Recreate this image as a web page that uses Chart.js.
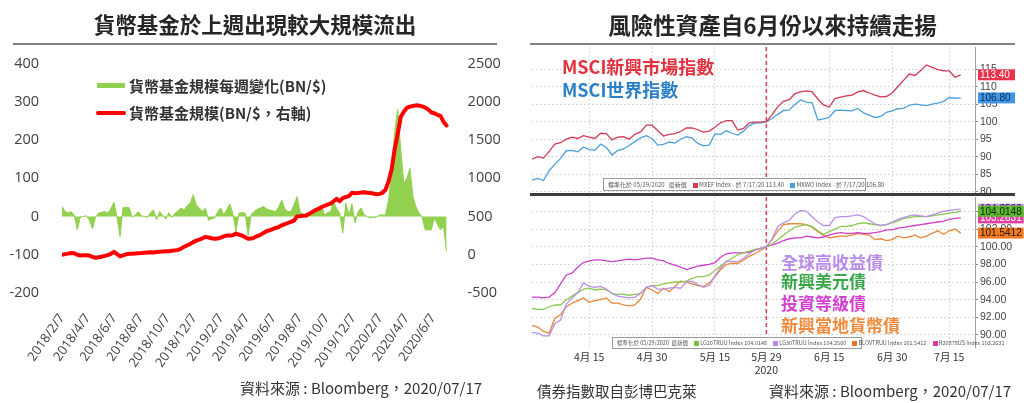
<!DOCTYPE html>
<html><head><meta charset="utf-8">
<script src="https://cdn.jsdelivr.net/npm/chart.js@4.4.1/dist/chart.umd.min.js"></script>
<style>
html,body{margin:0;padding:0;background:#fff;}
body{width:1024px;height:403px;position:relative;overflow:hidden;font-family:"Noto Sans CJK TC","Open Sans",sans-serif;color:#222;}
.abs{position:absolute;white-space:nowrap;z-index:5;}
canvas{position:absolute;z-index:2;}
.title{font-weight:bold;color:#262626;text-align:center;}
.rule{position:absolute;background:#808080;height:2px;z-index:5;}
.ann{font-weight:bold;font-size:17px;line-height:17px;}
.box{position:absolute;z-index:6;background:#fff;border:1px solid #9a9a9a;font-size:6px;line-height:11px;color:#555;white-space:nowrap;padding:0 4px;box-sizing:border-box;font-family:"Noto Sans CJK TC","Liberation Sans",sans-serif;}
.sq{display:inline-block;width:5px;height:5px;margin:0 1px 0 5px;vertical-align:-0.5px;}
</style></head>
<body>
<!-- left panel -->
<div class="abs title" style="left:13px;width:484px;top:12px;font-size:21.5px;line-height:24px;">貨幣基金於上週出現較大規模流出</div>
<div class="rule" style="left:13px;top:43px;width:484px;"></div>
<div class="abs" style="left:97px;top:83px;width:28px;height:5px;background:#92d050;"></div>
<div class="abs" style="left:129px;top:77px;font-size:15px;line-height:18px;font-weight:bold;color:#333;">貨幣基金規模每週變化(BN/$)</div>
<div class="abs" style="left:96px;top:111px;width:30px;height:4px;border-radius:2px;background:#ff0000;"></div>
<div class="abs" style="left:129px;top:104px;font-size:15px;line-height:18px;font-weight:bold;color:#333;">貨幣基金規模(BN/$，右軸)</div>
<div class="abs" style="left:240px;top:379px;font-size:15px;line-height:18px;color:#333;">資料來源 : Bloomberg，2020/07/17</div>
<canvas id="c1" width="512" height="403" style="left:0;top:0;width:512px;height:403px;"></canvas>

<!-- right panel -->
<div class="abs title" style="left:530px;width:485px;top:12px;font-size:22.5px;line-height:25px;">風險性資產自6月份以來持續走揚</div>
<div class="rule" style="left:530px;top:43px;width:485px;"></div>
<canvas id="c2" width="512" height="169" style="left:512px;top:34px;width:512px;height:169px;"></canvas>
<canvas id="c3" width="512" height="196" style="left:512px;top:184px;width:512px;height:196px;"></canvas>
<div class="abs" style="left:530px;top:193px;width:485px;height:3px;background:#3c3c3c;"></div>
<div class="abs" style="left:562px;top:56px;font-size:18px;line-height:20px;font-weight:bold;color:#e2313f;font-family:'Noto Sans CJK TC',sans-serif;">MSCI新興市場指數</div>
<div class="abs" style="left:562px;top:79px;font-size:18px;line-height:20px;font-weight:bold;color:#2c80c8;font-family:'Noto Sans CJK TC',sans-serif;">MSCI世界指數</div>
<div class="box" style="left:603px;top:178px;width:263px;height:13px;line-height:11px;">標準化於 05/29/2020&nbsp;&nbsp; 最新價 <span class="sq" style="background:#d23a55"></span>MXEF Index - 於 7/17/20 113.40 <span class="sq" style="background:#4a9ede"></span>MXWO Index - 於 7/17/20 106.80</div>
<div class="abs ann" style="left:781px;top:253px;color:#b98be8;">全球高收益債</div>
<div class="abs ann" style="left:781px;top:272px;color:#3aa64a;">新興美元債</div>
<div class="abs ann" style="left:781px;top:294px;color:#d23fd2;">投資等級債</div>
<div class="abs ann" style="left:781px;top:316px;color:#f08a3c;">新興當地貨幣債</div>
<div class="box" style="left:612px;top:337px;width:250px;height:12px;line-height:10px;font-size:5.5px;">標準化於 05/29/2020&nbsp; 最新價 <span class="sq" style="background:#7cc23e"></span>LG20TRUU Index 104.0148 <span class="sq" style="background:#b98be8"></span>LG30TRUU Index 104.2560 <span class="sq" style="background:#e8742a"></span>BLOVTRUU Index 101.5412 <span class="sq" style="background:#e0389a"></span>H20878US Index 103.2631</div>
<div class="abs" style="left:537px;top:382px;font-size:14.5px;line-height:18px;color:#333;">債券指數取自彭博巴克萊</div>
<div class="abs" style="left:769px;top:382px;font-size:15px;line-height:18px;color:#333;">資料來源 : Bloomberg，2020/07/17</div>

<script>
// ---------- Left chart data (weekly, from weekStart) ----------
const weekStart = '2018/2/7';
const axisEnd = '2020/7/15';
const flowTickLabels = ['2018/2/7','2018/4/7','2018/6/7','2018/8/7','2018/10/7','2018/12/7','2019/2/7','2019/4/7','2019/6/7','2019/8/7','2019/10/7','2019/12/7','2020/2/7','2020/4/7','2020/6/7'];
const leftTicks = [-200,-100,0,100,200,300,400];
const rightTicks = [-500,0,500,1000,1500,2000,2500];
const weeklyFlows = [26,13,9,13,4,-35,-2,0,2,-10,-32,-2,9,11,13,9,20,37,0,-52,
  23,24,23,-2,4,13,2,0,-2,10,17,-9,13,3,-7,10,-2,8,15,22,
  17,28,35,57,30,22,13,22,-10,-6,-4,12,22,4,18,33,7,-39,9,10,
  9,-50,5,13,19,22,26,20,17,15,13,25,43,20,13,13,30,52,13,5,
  -4,9,12,17,24,30,4,10,13,39,20,9,-43,35,4,33,-17,13,22,4,
  0,-4,-2,-2,4,4,4,43,122,220,280,174,87,100,126,52,25,9,-2,-35,
  -35,-35,-4,-20,-35,-26,-90];
const fundAssets = [0,8,15,22,20,0,-10,-8,-8,-10,-30,-40,-32,-25,-15,-5,10,38,10,-20,
  -8,5,14,12,16,20,22,26,30,33,30,36,40,42,46,45,52,57,62,80,
  105,122,140,165,185,199,215,234,225,215,208,212,225,240,251,252,255,277,262,251,
  230,208,212,225,245,260,285,308,320,335,350,362,385,400,415,430,445,500,505,510,
  513,535,560,583,600,620,640,655,668,700,732,700,740,755,766,810,805,806,815,818,
  810,806,800,790,795,810,850,960,1115,1377,1580,1800,1870,1920,1936,1945,1953,1950,1940,1923,
  1900,1860,1850,1830,1815,1740,1690];

// ---------- Right chart data (trading days, rebased 5/29 = 100) ----------
const tradeDates = ['4/1','4/2','4/3','4/6','4/7','4/8','4/9','4/10','4/13','4/14','4/15','4/16','4/17','4/20','4/21','4/22','4/23','4/24','4/27','4/28','4/29','4/30',
  '5/1','5/4','5/5','5/6','5/7','5/8','5/11','5/12','5/13','5/14','5/15','5/18','5/19','5/20','5/21','5/22','5/26','5/27','5/28','5/29',
  '6/1','6/2','6/3','6/4','6/5','6/8','6/9','6/10','6/11','6/12','6/15','6/16','6/17','6/18','6/19','6/22','6/23','6/24','6/25','6/26','6/29','6/30',
  '7/1','7/2','7/6','7/7','7/8','7/9','7/10','7/13','7/14','7/15','7/16','7/17'];
const rebaseDate = '5/29';
const bondTickDates = ['4/15','4/30','5/15','5/29','6/15','6/30','7/15'];
const bondTickLabels = ['4月 15','4月 30','5月 15',['5月 29','2020'],'6月 15','6月 30','7月 15'];
const equityTicks = [80,85,90,95,100,105,110,115];
const bondTicks = [90,92,94,96,98,100,102,104];
const emIndex = [89.3,90.0,89.6,91.5,93.6,94.0,95.0,95.6,95.2,96.0,95.6,95.2,96.7,96.6,94.8,95.6,95.7,95.0,96.4,97.1,
  99.0,99.0,97.5,95.9,96.4,96.6,97.2,98.2,98.2,97.7,97.0,97.3,98.4,99.7,100.3,100.3,97.6,98.1,99.7,99.9,
  99.9,100.0,102.0,104.3,105.8,106.3,108.0,108.5,108.8,108.5,106.5,104.8,104.2,106.6,107.0,107.4,107.6,108.5,108.9,108.2,
  107.6,107.1,107.2,108.2,110.0,111.8,113.6,113.2,114.6,116.2,115.5,114.9,114.5,114.5,112.7,113.40];
const worldIndex = [83.3,83.8,83.2,86.0,87.8,89.5,91.7,91.8,91.4,92.8,92.0,91.8,93.6,92.7,90.5,91.8,92.2,93.2,94.3,95.4,
  96.0,95.2,93.3,93.5,94.2,93.9,95.0,95.7,95.3,93.8,93.1,93.3,96.5,96.4,97.4,96.7,96.2,97.3,98.9,99.6,
  99.7,100.0,100.9,102.1,103.2,103.3,104.9,106.2,105.6,105.4,100.5,100.8,101.2,103.2,103.3,103.2,103.1,103.8,102.5,101.9,
  101.2,101.5,102.7,103.1,103.7,103.8,104.7,105.0,104.8,104.6,105.0,105.3,105.8,106.9,106.7,106.80];
const hyBond = [90.3,90.2,89.9,89.9,91.3,91.7,93.5,94.2,94.8,95.9,95.5,95.4,95.5,95.2,94.7,94.4,94.3,94.2,94.3,94.7,
  95.4,95.6,95.2,95.2,95.3,95.4,95.3,96.0,96.1,95.7,95.4,95.6,96.7,97.6,98.4,98.3,98.3,98.7,99.2,99.6,
  99.8,100.0,100.9,102.3,102.7,103.0,103.7,104.1,104.0,103.4,102.8,102.4,102.4,103.3,103.4,103.4,103.5,103.6,103.4,103.0,
  102.6,102.4,102.5,102.8,103.1,103.3,103.5,103.6,103.5,103.4,103.6,103.8,104.0,104.1,104.2,104.2560];
const emUsdBond = [93.0,92.9,92.9,93.2,93.4,93.4,94.0,94.4,94.8,95.2,95.3,95.1,95.2,95.1,94.7,94.6,94.6,94.5,94.6,94.7,
  95.4,95.6,95.6,95.8,95.9,96.0,96.0,96.1,96.4,96.6,96.6,96.8,97.3,97.8,98.3,98.7,99.1,99.3,99.5,99.7,
  99.8,100.0,100.3,100.8,101.3,101.8,102.2,102.4,102.5,102.3,101.8,101.4,101.7,102.0,102.3,102.3,102.4,102.6,102.7,102.6,
  102.5,102.4,102.5,102.7,102.9,103.2,103.3,103.4,103.4,103.4,103.5,103.6,103.7,103.8,103.9,104.0148];
const igBond = [94.3,94.3,94.2,94.3,94.8,95.8,96.8,97.0,97.7,98.2,98.4,98.5,98.5,98.4,98.3,98.4,98.5,98.6,98.5,98.6,
  98.7,98.7,98.5,98.4,98.1,97.9,97.7,97.4,97.6,97.8,97.9,98.0,98.2,98.8,99.2,99.3,99.3,99.3,99.4,99.6,
  99.8,100.0,100.2,100.4,100.7,100.9,101.0,101.0,101.2,101.1,101.0,101.1,101.3,101.5,101.6,101.5,101.5,101.6,101.5,101.5,
  101.6,101.7,101.9,101.9,102.1,102.2,102.3,102.4,102.5,102.6,102.7,102.8,102.9,103.1,103.2,103.2631];
const emLocalBond = [91.1,90.9,90.4,90.2,91.9,92.3,93.2,93.6,93.9,94.2,93.7,93.9,94.0,94.2,93.6,93.6,93.4,93.3,93.4,94.1,
  95.4,95.1,94.7,95.3,94.9,95.5,96.1,96.0,95.8,95.6,95.5,95.9,96.6,97.4,98.0,98.1,98.1,98.5,98.9,99.2,
  99.6,100.0,100.8,101.8,102.5,102.6,102.6,102.6,102.5,102.2,101.7,101.3,101.0,101.1,101.2,101.2,101.3,101.5,101.4,101.3,
  100.8,100.9,100.7,100.8,101.2,101.0,101.1,101.3,101.0,101.2,101.5,101.8,101.4,101.8,102.0,101.5412];

// ---------- helpers ----------
function dayNum(s){const p=s.split('/').map(Number);return Date.UTC(p[0],p[1]-1,p[2])/864e5;}
const base = dayNum(weekStart);
const latin = "'Open Sans','Noto Sans',sans-serif";
const narrow = "'Liberation Sans Narrow','Liberation Sans',sans-serif";
const pts = arr => arr.map((v,i)=>({x:i,y:v}));

// ---------- Left chart ----------
new Chart(document.getElementById('c1'), {
  type:'line',
  data:{datasets:[
    {label:'貨幣基金規模(BN/$，右軸)', data:fundAssets.map((v,i)=>({x:i*7,y:v})), yAxisID:'y1',
     borderColor:'#ff0000', borderWidth:4, pointRadius:0, tension:0, fill:false, borderJoinStyle:'round', borderCapStyle:'round'},
    {label:'貨幣基金規模每週變化(BN/$)', data:weeklyFlows.map((v,i)=>({x:i*7,y:v})), yAxisID:'y',
     borderColor:'#92d050', backgroundColor:'#92d050', borderWidth:1, pointRadius:0, tension:0, fill:'origin'}
  ]},
  options:{
    responsive:false, animation:false,
    layout:{padding:{top:63.5,left:0,right:0,bottom:0}},
    plugins:{legend:{display:false}, tooltip:{enabled:false}},
    scales:{
      x:{type:'linear', min:0, max:dayNum(axisEnd)-base,
         afterBuildTicks(s){s.ticks = flowTickLabels.map(l=>({value:dayNum(l)-base}));},
         ticks:{autoSkip:false, minRotation:55, maxRotation:55, padding:10, color:'#404040', font:{family:latin,size:13},
                callback:(v,i)=>flowTickLabels[i]},
         grid:{display:false}, border:{display:false},
         afterFit(s){s.height=110;}},
      y:{position:'left', min:-200, max:400,
         afterBuildTicks(s){s.ticks = leftTicks.map(v=>({value:v}));},
         ticks:{padding:15, color:'#404040', font:{family:latin,size:14.5}, callback:v=>String(v)},
         grid:{display:false}, border:{display:false},
         afterFit(s){s.width=62;}},
      y1:{position:'right', min:-500, max:2500,
         afterBuildTicks(s){s.ticks = rightTicks.map(v=>({value:v}));},
         ticks:{padding:10, color:'#404040', font:{family:latin,size:14.5}, callback:v=>String(v)},
         grid:{display:false}, border:{display:false},
         afterFit(s){s.width=62.4;}}
    }
  }
});

// ---------- Right chart plugins ----------
const rebaseLine = {
  id:'rebaseLine',
  beforeDatasetsDraw(chart){
    const {ctx, chartArea, scales} = chart;
    const x = scales.x.getPixelForValue(tradeDates.indexOf(rebaseDate));
    ctx.save(); ctx.strokeStyle='#d8434f'; ctx.lineWidth=1.5; ctx.setLineDash([4,3]);
    ctx.beginPath(); ctx.moveTo(x, chartArea.top); ctx.lineTo(x, chartArea.bottom); ctx.stroke(); ctx.restore();
  }
};
function tagPlugin(tags, digits){
  return {
    id:'valueTags',
    afterDraw(chart){
      const {ctx, chartArea, scales} = chart;
      ctx.save();
      ctx.font = '10px ' + narrow;
      ctx.textBaseline = 'middle'; ctx.textAlign='left';
      tags.forEach(t=>{
        const v = t.data[t.data.length-1];
        const txt = v.toFixed(digits);
        const y = scales.y.getPixelForValue(v);
        const x = chartArea.right + 3;
        const w = Math.max(37, ctx.measureText(txt).width + 4);
        ctx.fillStyle = t.bg; ctx.fillRect(x, y-5.5, w, 11);
        ctx.fillStyle = t.fg; ctx.fillText(txt, x+2, y+0.5);
      });
      ctx.restore();
    }
  };
}
function xAxis(showLabels, heightFit){
  return {
    type:'linear', min:0, max:77.5,
    afterBuildTicks(s){s.ticks = bondTickDates.map(d=>({value:tradeDates.indexOf(d)}));},
    ticks:{display:showLabels, autoSkip:false, maxRotation:0, minRotation:0, padding:4, color:'#333',
           font:{family:"'Noto Sans CJK TC',sans-serif", size:10.5, lineHeight:1.2},
           callback:(v,i)=>bondTickLabels[i]},
    grid:{color:'#cfcfcf', drawTicks:false, lineWidth:1},
    border:{display:false, dash:[1.5,2.5]},
    afterFit(s){s.height=heightFit;}
  };
}
function yAxis(min, max, ticksArr, digits){
  return {
    position:'right', min:min, max:max,
    afterBuildTicks(s){s.ticks = ticksArr.map(v=>({value:v}));},
    ticks:{padding:2, color:'#444', font:{family:narrow, size:10.5}, callback:v=>v.toFixed(digits)},
    grid:{color:'#cfcfcf', tickLength:3, tickColor:'#888', tickBorderDash:[]},
    border:{display:true, color:'#a0a0a0', width:1, dash:[1.5,2.5]},
    afterFit(s){s.width=49;}
  };
}
const lineDs = (label, arr, color) => ({label, data:pts(arr), borderColor:color, borderWidth:1.3, pointRadius:0, tension:0, fill:false});

// ---------- Right top: equities ----------
new Chart(document.getElementById('c2'), {
  type:'line',
  data:{datasets:[
    lineDs('MSCI新興市場指數', emIndex, '#cf3a55'),
    lineDs('MSCI世界指數', worldIndex, '#4ea0dc')
  ]},
  options:{
    responsive:false, animation:false,
    layout:{padding:{top:13,left:20,right:0,bottom:10}},
    plugins:{legend:{display:false}, tooltip:{enabled:false}},
    scales:{ x:xAxis(false,0), y:yAxis(79.63,121.34,equityTicks,0) }
  },
  plugins:[rebaseLine, tagPlugin([
    {data:emIndex, bg:'#e8334a', fg:'#ffffff'},
    {data:worldIndex, bg:'#3d96e8', fg:'#0b2a4a'}
  ],2)]
});

// ---------- Right bottom: bonds ----------
new Chart(document.getElementById('c3'), {
  type:'line',
  data:{datasets:[
    lineDs('全球高收益債', hyBond, '#b890e6'),
    lineDs('新興美元債', emUsdBond, '#8cc850'),
    lineDs('投資等級債', igBond, '#cc3fcc'),
    lineDs('新興當地貨幣債', emLocalBond, '#e8873a')
  ]},
  options:{
    responsive:false, animation:false,
    layout:{padding:{top:13,left:20,right:0,bottom:0}},
    plugins:{legend:{display:false}, tooltip:{enabled:false}},
    scales:{ x:xAxis(true,33), y:yAxis(88.64,105.63,bondTicks,2) }
  },
  plugins:[rebaseLine, tagPlugin([
    {data:hyBond, bg:'#c39be8', fg:'#2a1040'},
    {data:igBond, bg:'#e040a0', fg:'#ffffff'},
    {data:emUsdBond, bg:'#5cb82e', fg:'#10240a'},
    {data:emLocalBond, bg:'#f07a22', fg:'#2a1200'}
  ],4)]
});
</script>
</body></html>
